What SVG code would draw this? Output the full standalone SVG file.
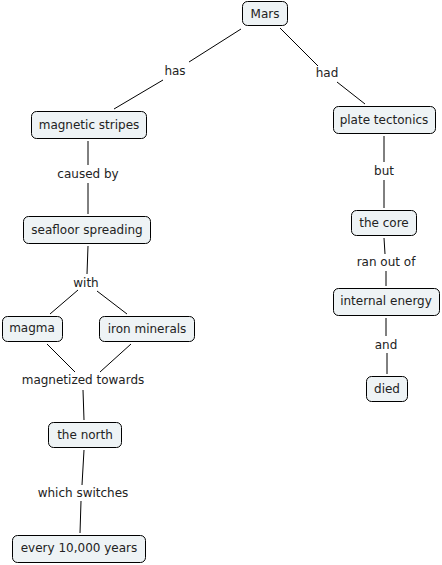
<svg xmlns="http://www.w3.org/2000/svg" width="442" height="565" viewBox="0 0 442 565">
<style>
.n rect{fill:#eef3f5;stroke:#000;stroke-width:1}
text{font-family:"DejaVu Sans",Verdana,sans-serif;font-size:12px;fill:#222;text-anchor:middle}
.c line{stroke:#000;stroke-width:1}
</style>
<rect width="442" height="565" fill="#fff"/>
<g class="c">
<line x1="241" y1="29" x2="189" y2="62"/>
<line x1="163" y1="80" x2="114" y2="109"/>
<line x1="280" y1="28" x2="318" y2="66"/>
<line x1="337" y1="82" x2="365" y2="104"/>
<line x1="88" y1="141" x2="88" y2="165"/>
<line x1="88" y1="183" x2="88" y2="214"/>
<line x1="384" y1="136" x2="384" y2="162"/>
<line x1="384" y1="180" x2="384" y2="208"/>
<line x1="384" y1="238" x2="385" y2="254"/>
<line x1="386" y1="271" x2="386" y2="286"/>
<line x1="386" y1="318" x2="386" y2="336"/>
<line x1="387" y1="353" x2="387" y2="374"/>
<line x1="88" y1="246" x2="87" y2="274"/>
<line x1="78" y1="290" x2="50" y2="314"/>
<line x1="97" y1="291" x2="127" y2="314"/>
<line x1="47" y1="344" x2="75" y2="372"/>
<line x1="131" y1="344" x2="100" y2="372"/>
<line x1="83" y1="390" x2="84" y2="420"/>
<line x1="84" y1="450" x2="82" y2="485"/>
<line x1="81" y1="501" x2="80" y2="533"/>
</g>
<g id="labels">
<text x="175" y="75">has</text>
<text x="327" y="77">had</text>
<text x="88" y="178">caused by</text>
<text x="384" y="175">but</text>
<text x="386" y="266">ran out of</text>
<text x="86" y="287">with</text>
<text x="386" y="349">and</text>
<text x="83" y="384">magnetized towards</text>
<text x="83" y="497">which switches</text>
</g>
<g id="mars" class="n"><rect x="242.5" y="1.5" width="45" height="24" rx="5"/><text x="265" y="18">Mars</text></g>
<g id="magnetic-stripes" class="n"><rect x="31.5" y="111.5" width="115" height="27" rx="5"/><text x="89" y="129">magnetic stripes</text></g>
<g id="plate-tectonics" class="n"><rect x="333.5" y="106.5" width="102" height="27" rx="5"/><text x="384" y="124">plate tectonics</text></g>
<g id="seafloor-spreading" class="n"><rect x="23.5" y="216.5" width="127" height="27" rx="5"/><text x="87" y="234">seafloor spreading</text></g>
<g id="the-core" class="n"><rect x="351.5" y="210.5" width="65" height="25" rx="5"/><text x="384" y="227">the core</text></g>
<g id="internal-energy" class="n"><rect x="333.5" y="288.5" width="106" height="27" rx="5"/><text x="386" y="305">internal energy</text></g>
<g id="magma" class="n"><rect x="2.5" y="316.5" width="60" height="25" rx="5"/><text x="32" y="332">magma</text></g>
<g id="iron-minerals" class="n"><rect x="99.5" y="316.5" width="95" height="25" rx="5"/><text x="147" y="333">iron minerals</text></g>
<g id="died" class="n"><rect x="366.5" y="376.5" width="41" height="25" rx="5"/><text x="387" y="393">died</text></g>
<g id="the-north" class="n"><rect x="48.5" y="422.5" width="73" height="25" rx="5"/><text x="85" y="439">the north</text></g>
<g id="every-10000-years" class="n"><rect x="12.5" y="535.5" width="133" height="27" rx="5"/><text x="79" y="552">every 10,000 years</text></g>
</svg>
